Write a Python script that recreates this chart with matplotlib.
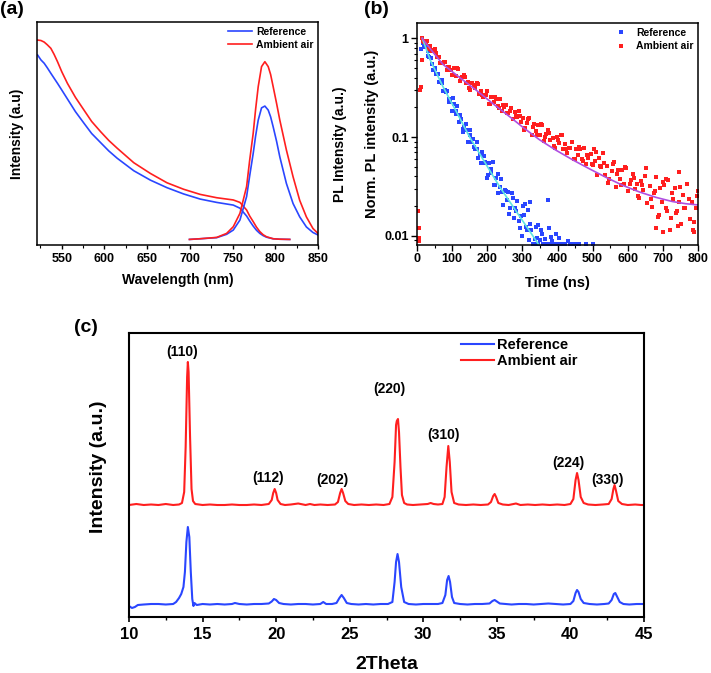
import matplotlib
matplotlib.use("Agg")
import matplotlib.pyplot as plt
from matplotlib.ticker import MultipleLocator, FixedLocator, NullFormatter, LogLocator

plt.rcParams["font.family"] = ["Liberation Sans", "DejaVu Sans"]
plt.rcParams["font.weight"] = "bold"
plt.rcParams["axes.labelweight"] = "bold"

RED = "#ff1f1f"
BLUE = "#2a46ff"
CYAN = "#5ee6e0"
PURPLE = "#b04ee0"

# ---------------- (a) absorption + PL ----------------
abs_wl = [521.7, 525.6, 529.4, 533, 537.2, 541, 545, 550, 556.6, 566, 576, 585, 595.5, 605,
          614.9, 634.3, 653.7, 673.2, 692.6, 712, 731.4, 750.8, 758.6, 766.4, 770, 774.1,
          778, 781.9, 785.8, 789.7, 797.4, 805, 816.9]
abs_ref = [0.852, 0.83, 0.815, 0.795, 0.77, 0.748, 0.725, 0.695, 0.655, 0.598, 0.546, 0.5,
           0.459, 0.422, 0.389, 0.333, 0.291, 0.257, 0.229, 0.206, 0.191, 0.179, 0.165, 0.13,
           0.108, 0.085, 0.066, 0.052, 0.042, 0.035, 0.028, 0.026, 0.025]
abs_air = [0.919, 0.917, 0.91, 0.898, 0.882, 0.855, 0.822, 0.777, 0.725, 0.662, 0.605, 0.554,
           0.508, 0.469, 0.434, 0.369, 0.321, 0.279, 0.25, 0.227, 0.212, 0.202, 0.191, 0.157,
           0.13, 0.105, 0.08, 0.06, 0.046, 0.037, 0.028, 0.026, 0.025]

pl_wl = [699.5, 712, 731.4, 743, 750.8, 758.6, 766.4, 770, 774.1, 777, 780, 783.9, 787.8,
         791.7, 794.5, 797.5, 801.5, 805.3, 813, 820.8, 828.6, 836.4, 844.1, 850]
pl_ref = [0.025, 0.028, 0.033, 0.048, 0.067, 0.112, 0.217, 0.31, 0.41, 0.49, 0.56, 0.615,
          0.623, 0.605, 0.575, 0.53, 0.465, 0.395, 0.276, 0.186, 0.126, 0.081, 0.056, 0.045]
pl_air = [0.025, 0.028, 0.034, 0.052, 0.082, 0.142, 0.262, 0.38, 0.5, 0.61, 0.71, 0.80,
          0.822, 0.80, 0.765, 0.71, 0.635, 0.56, 0.426, 0.306, 0.2, 0.126, 0.074, 0.052]

# ---------------- (b) TRPL decay ----------------
ref_t = [12, 14, 16, 18, 20, 25, 30, 35, 40, 45, 50, 55, 60, 65, 70, 75, 80, 85, 90, 95,
         100, 105, 110, 115, 120, 125, 130, 135, 140, 145, 150, 155, 160, 165, 170, 175,
         180, 185, 190, 195, 200, 205, 210, 215, 220, 225, 230, 235, 240, 245, 250, 255,
         260, 265, 270, 275, 280, 285, 290, 295, 300, 305, 310, 315, 320, 325, 330, 335,
         340, 345, 350, 355, 360, 365, 370, 375, 380, 385, 390, 395, 400, 405, 410, 420,
         430, 440, 450, 460, 480, 500, 322, 372, 345, 308,
         22, 32, 42, 52, 62, 72, 82, 92, 102, 112, 122, 132, 142, 152, 162, 172, 182, 192,
         202, 212, 222, 232, 242, 252, 262, 272, 282, 292, 302, 312, 322, 332, 342, 352,
         362, 382, 392, 415, 435]
ref_i = [0.78, 0.6, 0.95, 0.9, 0.845, 0.819, 0.668, 0.641, 0.628, 0.48, 0.506, 0.439,
         0.437, 0.361, 0.381, 0.294, 0.299, 0.293, 0.244, 0.237, 0.184, 0.218, 0.182,
         0.207, 0.1435, 0.1535, 0.12, 0.126, 0.135, 0.0897, 0.106, 0.0897, 0.0968,
         0.0752, 0.09, 0.0616, 0.068, 0.0705, 0.0547, 0.0555, 0.0385, 0.0546, 0.0429,
         0.0566, 0.0326, 0.0388, 0.0275, 0.0316, 0.0379, 0.0205, 0.0292, 0.0232, 0.0277,
         0.0191, 0.0273, 0.0153, 0.0192, 0.0228, 0.0142, 0.016, 0.00995, 0.0163, 0.0122,
         0.0182, 0.009, 0.0116, 0.0082, 0.0094, 0.0122, 0.0082, 0.009, 0.0105, 0.0082,
         0.0093, 0.0082, 0.012, 0.0082, 0.0088, 0.0082, 0.0105, 0.0082, 0.0095, 0.0082,
         0.0082, 0.0089, 0.0082, 0.0082, 0.0082, 0.0082, 0.0082, 0.022, 0.023, 0.013, 0.021,
         0.818, 0.743, 0.553, 0.489, 0.359, 0.356, 0.286, 0.229, 0.248, 0.173, 0.168, 0.114,
         0.118, 0.117, 0.0798, 0.0759, 0.055, 0.0641, 0.0416, 0.0479, 0.0328, 0.042, 0.0281,
         0.0286, 0.0167, 0.024, 0.0179, 0.012, 0.0203, 0.0114, 0.0132, 0.0082, 0.0095,
         0.0116, 0.0082, 0.0097, 0.0082, 0.0082, 0.0082]

air_t = [4, 5, 6, 7, 9, 10, 13, 14, 20, 26, 32, 38, 44, 50, 56, 62, 68, 74, 80, 86, 92, 98,
         104, 110, 116, 122, 128, 134, 140, 146, 152, 158, 164, 170, 176, 182, 188, 194,
         200, 206, 212, 218, 224, 230, 236, 242, 248, 254, 260, 266, 272, 278, 284, 290,
         296, 302, 308, 314, 320, 326, 332, 338, 344, 350, 356, 362, 368, 374, 380, 386,
         392, 398, 404, 410, 416, 422, 428, 434, 440, 446, 452, 458, 464, 470, 476, 482,
         488, 494, 500, 506, 512, 518, 524, 530, 536, 542, 548, 554, 560, 566, 572, 578,
         584, 590, 596, 602, 608, 614, 620, 626, 632, 638, 644, 650, 656, 662, 668, 674,
         680, 686, 692, 698, 704, 710, 716, 722, 728, 734, 740, 746, 752, 758, 764, 770,
         776, 782, 788, 794, 800, 505, 746, 708, 700, 720, 790, 680, 742,
         17, 29, 41, 53, 65, 77, 89, 101, 113, 125, 137, 149, 161, 173, 185, 197, 209, 221,
         233, 245, 257, 269, 281, 293, 305, 317, 329, 341, 353, 365, 377, 389, 401, 413,
         425, 437, 449, 461, 473, 485, 497, 509, 521, 533, 545, 557, 569, 581, 593, 605,
         617, 629, 641, 653, 665, 677, 689, 701, 713, 725, 737, 749, 761, 773, 785, 797]
air_i = [0.018, 0.0095, 0.012, 0.0088, 0.30, 0.32, 0.6, 1.0, 0.927, 0.906, 0.787, 0.828,
         0.746, 0.773, 0.64, 0.644, 0.564, 0.562, 0.578, 0.48, 0.516, 0.474, 0.505, 0.42,
         0.491, 0.372, 0.406, 0.425, 0.353, 0.363, 0.303, 0.353, 0.314, 0.356, 0.274,
         0.296, 0.252, 0.268, 0.29, 0.217, 0.255, 0.227, 0.245, 0.206, 0.241, 0.183, 0.201,
         0.211, 0.176, 0.182, 0.152, 0.179, 0.16, 0.182, 0.141, 0.155, 0.125, 0.139, 0.158,
         0.106, 0.135, 0.116, 0.132, 0.1045, 0.133, 0.0916, 0.107, 0.117, 0.0927, 0.0989,
         0.0782, 0.1, 0.0869, 0.106, 0.075, 0.0857, 0.0695, 0.0776, 0.0887, 0.0597, 0.0766,
         0.0665, 0.076, 0.0601, 0.0771, 0.0532, 0.0622, 0.0679, 0.0519, 0.058, 0.0414,
         0.061, 0.0499, 0.0687, 0.0412, 0.051, 0.0377, 0.0452, 0.056, 0.0313, 0.0461,
         0.0378, 0.0469, 0.0334, 0.0492, 0.0286, 0.0366, 0.0424, 0.0302, 0.0338, 0.0241,
         0.0356, 0.0294, 0.0406, 0.0218, 0.0319, 0.0197, 0.0272, 0.0399, 0.0155, 0.0303,
         0.0222, 0.0326, 0.019, 0.037, 0.0152, 0.0237, 0.0308, 0.018, 0.0221, 0.0131,
         0.0258, 0.0191, 0.0337, 0.0149, 0.022, 0.0138, 0.0192, 0.0285, 0.075, 0.0447,
         0.038, 0.011, 0.0115, 0.011, 0.012, 0.0125,
         0.946, 0.931, 0.769, 0.71, 0.565, 0.578, 0.512, 0.43, 0.5, 0.394, 0.403, 0.313,
         0.336, 0.349, 0.269, 0.268, 0.217, 0.254, 0.199, 0.211, 0.177, 0.197, 0.163, 0.163,
         0.118, 0.153, 0.128, 0.1045, 0.1355, 0.101, 0.11, 0.081, 0.0944, 0.105, 0.0755,
         0.0783, 0.0603, 0.0789, 0.058, 0.066, 0.0532, 0.0705, 0.0506, 0.0551, 0.0344,
         0.053, 0.0422, 0.0325, 0.0499, 0.0335, 0.039, 0.0253, 0.0329, 0.0493, 0.0237,
         0.0286, 0.0163, 0.0349, 0.0177, 0.0269, 0.0172, 0.0311, 0.0192, 0.0237, 0.0116,
         0.0255]

ref_fit_t = [15, 38, 74, 110, 150, 190, 235, 280, 330, 358]
ref_fit_i = [1.0, 0.6, 0.324, 0.187, 0.1, 0.058, 0.0316, 0.0183, 0.01, 0.0071]
air_fit_t = [15, 40, 74, 120, 169, 215, 263, 305, 349, 395, 443, 490, 538, 585, 633,
             680, 727, 765, 800]
air_fit_i = [1.0, 0.765, 0.545, 0.405, 0.298, 0.22, 0.162, 0.123, 0.094, 0.074, 0.059,
             0.048, 0.0392, 0.0326, 0.0279, 0.0246, 0.0223, 0.0212, 0.0206]

# ---------------- (c) XRD ----------------
xrd_air_x = [10.0, 10.5, 11.0, 11.5, 12.0, 12.5, 13.0, 13.4, 13.6, 13.75, 13.85, 13.95, 14.0,
             14.05, 14.15, 14.25, 14.35, 14.5, 15.0, 15.5, 16.0, 16.5, 17.0, 17.5, 18.0, 18.5,
             19.0, 19.5, 19.7, 19.8, 19.9, 20.0, 20.1, 20.3, 20.6, 21.0, 21.5, 22.0, 22.3,
             22.6, 23.0, 23.5, 24.0, 24.2, 24.35, 24.45, 24.55, 24.7, 24.9, 25.3, 25.8, 26.3,
             26.8, 27.3, 27.7, 27.9, 28.05, 28.15, 28.2, 28.28, 28.35, 28.45, 28.55, 28.7,
             28.9, 29.3, 29.8, 30.3, 30.5, 30.7, 31.0, 31.3, 31.45, 31.58, 31.7, 31.8, 31.92,
             32.1, 32.4, 32.9, 33.4, 33.9, 34.4, 34.6, 34.75, 34.85, 34.95, 35.1, 35.4, 35.8,
             36.3, 36.6, 37.1, 37.6, 38.1, 38.6, 39.1, 39.6, 40.0, 40.2, 40.35, 40.45, 40.55,
             40.7, 40.9, 41.2, 41.7, 42.2, 42.6, 42.8, 42.92, 43.0, 43.1, 43.25, 43.5, 43.9,
             44.4, 44.8, 45.0]
xrd_air_y = [112, 113, 112, 112.5, 112, 113, 112, 112.5, 114, 125, 170, 240, 255,
             245, 180, 128, 116, 113, 112, 112.5, 112, 112, 112.5, 112, 112, 112.5,
             112, 113, 117, 124, 128, 124, 117, 113, 112, 112.5, 113.5, 112, 113,
             112, 112.5, 112, 112.5, 115, 124, 128, 124, 116, 113, 112, 112.5, 112,
             112.5, 112, 113, 120, 155, 192, 196, 198, 185, 150, 122, 114,
             112.5, 112, 112.5, 113, 114, 113, 112.5, 113, 120, 150, 171, 155, 125,
             114, 112.5, 112, 112.5, 112, 112.5, 115, 121, 123, 120, 114, 112.5, 112,
             113.5, 112, 112.5, 112, 112.5, 112, 112.5, 112, 113, 118, 137, 144, 137,
             120, 114, 112.5, 112, 112.5, 113, 118, 128, 132, 126, 116, 113, 112,
             112.5, 112, 112]

xrd_ref_x = [10.0, 10.2, 10.4, 10.6, 11.0, 11.5, 12.0, 12.5, 13.0, 13.2, 13.4, 13.55, 13.7,
             13.8, 13.9, 14.0, 14.1, 14.2, 14.3, 14.38, 14.45, 14.6, 15.0, 15.5, 16.0, 16.5,
             17.0, 17.2, 17.5, 18.0, 18.5, 19.0, 19.5, 19.7, 19.85, 20.0, 20.2, 20.5, 21.0,
             21.5, 22.0, 22.5, 23.0, 23.2, 23.4, 23.8, 24.1, 24.3, 24.45, 24.6, 24.8, 25.1,
             25.6, 26.1, 26.6, 27.1, 27.6, 27.9, 28.05, 28.15, 28.25, 28.35, 28.5, 28.7, 29.0,
             29.5, 30.0, 30.5, 31.0, 31.3, 31.5, 31.62, 31.72, 31.82, 31.95, 32.1, 32.5, 33.0,
             33.5, 34.0, 34.5, 34.7, 34.85, 35.0, 35.2, 35.6, 36.0, 36.5, 37.0, 37.5, 38.0,
             38.5, 39.0, 39.5, 40.0, 40.2, 40.35, 40.45, 40.55, 40.7, 40.9, 41.3, 41.8, 42.3,
             42.6, 42.8, 42.95, 43.05, 43.15, 43.35, 43.6, 44.0, 44.5, 45.0]
xrd_ref_y = [11, 9, 10, 12, 12.5, 13, 13, 12.5, 13, 15, 19, 23, 30,
             45, 75, 90, 80, 45, 18, 11, 14, 12, 13, 12.5, 13, 12.5,
             13, 14, 13, 12.5, 13, 13, 13.5, 15.5, 18, 17, 14, 13, 12.5,
             13, 13, 12.5, 13, 15, 13, 13, 14, 19, 22, 19, 14, 13,
             12.5, 13, 12.5, 13, 13, 15, 35, 55, 63, 55, 30, 15, 13,
             12.5, 13, 13, 13, 14, 22, 37, 41, 35, 20, 14, 13, 12.5,
             13, 13, 13.5, 16, 17, 15.5, 13.5, 13, 12.5, 13, 13, 12.5, 13,
             13.5, 13, 12.5, 13, 16, 24, 27, 25, 18, 14, 13, 12.5, 13,
             13.5, 17, 23, 24, 21, 15, 13, 12.5, 13, 13]

peak_labels = ["(110)", "(112)", "(202)", "(220)", "(310)", "(224)", "(330)"]
peak_label_x = [13.63, 19.42, 23.84, 27.67, 31.35, 39.87, 42.5]
peak_label_y = [265, 139, 137, 228, 182, 154, 137]

W, H = 711, 673
fig = plt.figure(figsize=(W / 100, H / 100), dpi=100)


def px_axes(left, top, right, bottom):
    return fig.add_axes([left / W, 1 - bottom / H, (right - left) / W, (bottom - top) / H])


def bold_ticks(ax):
    for lab in ax.get_xticklabels() + ax.get_yticklabels():
        lab.set_fontweight("bold")


# ---- panel (a)
ax_a = px_axes(37, 22, 318, 245)
ax_a.plot(abs_wl, abs_ref, color=BLUE, lw=1.2, label="Reference")
ax_a.plot(abs_wl, abs_air, color=RED, lw=1.2, label="Ambient air")
ax_a.plot(pl_wl, pl_ref, color=BLUE, lw=1.2)
ax_a.plot(pl_wl, pl_air, color=RED, lw=1.2)
ax_a.set_xlim(521, 850)
ax_a.set_ylim(0, 1)
ax_a.xaxis.set_major_locator(MultipleLocator(50))
ax_a.xaxis.set_minor_locator(MultipleLocator(25))
ax_a.set_yticks([])
ax_a.tick_params(axis="x", which="major", length=3, width=1, labelsize=9, pad=3)
ax_a.tick_params(axis="x", which="minor", length=2, width=0.8)
ax_a.set_xlabel("Wavelength (nm)", fontsize=10)
ax_a.xaxis.set_label_coords(0.5, -0.157)
ax_a.xaxis.label.set_va("center")
ax_a.set_ylabel("Intensity (a.u)", fontsize=10)
ax_a.yaxis.set_label_coords(-0.071, 0.5)
ax_a.yaxis.label.set_va("center")
ax_a.text(1.078, 0.453, "PL Intensity (a.u.)", transform=ax_a.transAxes, rotation=90,
          ha="center", va="center", fontsize=10, fontweight="bold")
ax_a.legend(loc="upper left", bbox_to_anchor=(0.68, 0.978), frameon=False,
            prop={"size": 7.5, "weight": "bold"},
            handlelength=2.3, handletextpad=0.4, labelspacing=0.3, borderpad=0,
            borderaxespad=0)

# ---- panel (b)
ax_b = px_axes(417, 23, 698, 245)
ax_b.plot(ref_t, ref_i, ls="none", marker="s", ms=2.7, mew=0, color=BLUE, label="Reference")
ax_b.plot(air_t, air_i, ls="none", marker="s", ms=2.7, mew=0, color=RED, label="Ambient air")
ax_b.plot(ref_fit_t, ref_fit_i, color=CYAN, lw=1.2)
ax_b.plot(air_fit_t, air_fit_i, color=PURPLE, lw=1.2)
ax_b.set_yscale("log")
ax_b.set_xlim(0, 800)
ax_b.set_ylim(0.0081, 1.43)
ax_b.xaxis.set_major_locator(MultipleLocator(100))
ax_b.xaxis.set_minor_locator(MultipleLocator(50))
ax_b.yaxis.set_major_locator(FixedLocator([0.01, 0.1, 1]))
ax_b.set_yticklabels(["0.01", "0.1", "1"])
ax_b.yaxis.set_minor_locator(LogLocator(base=10, subs=range(2, 10)))
ax_b.yaxis.set_minor_formatter(NullFormatter())
ax_b.tick_params(which="major", length=4, width=1, labelsize=9, pad=2)
ax_b.tick_params(which="minor", length=2, width=0.8)
ax_b.set_xlabel("Time (ns)", fontsize=10.5)
ax_b.xaxis.set_label_coords(0.5, -0.171)
ax_b.xaxis.label.set_va("center")
ax_b.set_ylabel("Norm. PL intensity (a.u.)", fontsize=10.5)
ax_b.yaxis.set_label_coords(-0.16, 0.5)
ax_b.yaxis.label.set_va("center")
ax_b.legend(loc="upper left", bbox_to_anchor=(0.706, 0.977), frameon=False,
            prop={"size": 7.5, "weight": "bold"},
            handlelength=1.0, handletextpad=1.0, labelspacing=0.3, borderpad=0,
            borderaxespad=0, markerscale=1.0)

# ---- panel (c)
ax_c = px_axes(129, 333, 644, 617)
ax_c.plot(xrd_ref_x, xrd_ref_y, color=BLUE, lw=1.5, label="Reference")
ax_c.plot(xrd_air_x, xrd_air_y, color=RED, lw=1.5, label="Ambient air")
for lab, lx, ly in zip(peak_labels, peak_label_x, peak_label_y):
    ax_c.text(lx, ly, lab, ha="center", va="center", fontsize=10, fontweight="bold")
ax_c.set_xlim(10, 45)
ax_c.set_ylim(0, 284)
ax_c.xaxis.set_major_locator(MultipleLocator(5))
ax_c.xaxis.set_minor_locator(MultipleLocator(2.5))
ax_c.set_yticks([])
ax_c.tick_params(axis="x", which="major", length=3.5, width=1.2, labelsize=12, pad=4)
ax_c.tick_params(axis="x", which="minor", length=2.5, width=1)
ax_c.set_xlabel("2Theta", fontsize=14)
ax_c.xaxis.set_label_coords(0.5, -0.169)
ax_c.xaxis.label.set_va("center")
ax_c.set_ylabel("Intensity (a.u.)", fontsize=14)
ax_c.yaxis.set_label_coords(-0.06, 0.528)
ax_c.yaxis.label.set_va("center")
ax_c.legend(loc="upper left", bbox_to_anchor=(0.645, 0.982), frameon=False,
            prop={"size": 10.5, "weight": "bold"},
            handlelength=2.26, handletextpad=0.2, labelspacing=0.15, borderpad=0,
            borderaxespad=0)

for ax in (ax_a, ax_b):
    for sp in ax.spines.values():
        sp.set_linewidth(1.1)
for sp in ax_c.spines.values():
    sp.set_linewidth(1.5)
for ax in (ax_a, ax_b, ax_c):
    bold_ticks(ax)

fig.text(12 / W, 1 - 10 / H, "(a)", ha="center", va="center", fontsize=14, fontweight="bold")
fig.text(376 / W, 1 - 10 / H, "(b)", ha="center", va="center", fontsize=14, fontweight="bold")
fig.text(86 / W, 1 - 327 / H, "(c)", ha="center", va="center", fontsize=14, fontweight="bold")

fig.savefig("out.png", dpi=100)
